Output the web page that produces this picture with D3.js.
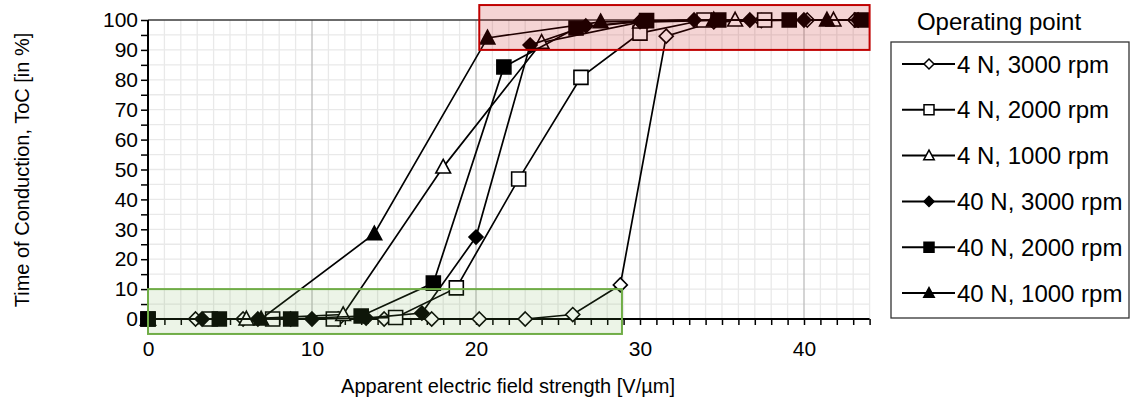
<!DOCTYPE html>
<html><head><meta charset="utf-8">
<script src="https://cdn.jsdelivr.net/npm/d3@7"></script>
<style>body{margin:0;background:#fff;} svg{display:block;font-family:Arial,"Liberation Sans",sans-serif;}</style>
</head><body><svg id="c" width="1130" height="406"></svg>
<script>
// ---- data ----
const seriesNames = ["4 N, 3000 rpm","4 N, 2000 rpm","4 N, 1000 rpm","40 N, 3000 rpm","40 N, 2000 rpm","40 N, 1000 rpm"];
const x4N3000 = [0, 2.9, 5.8, 8.7, 11.6, 14.4, 17.3, 20.2, 23.0, 25.9, 28.8, 31.6, 34.5, 37.4, 40.2, 43.1];
const y4N3000 = [0, 0, 0, 0, 0, 0, 0, 0, 0, 1.5, 11.4, 94.6, 99.4, 99.8, 100, 100];
const x4N2000 = [0, 3.8, 7.6, 11.3, 15.1, 18.8, 22.6, 26.4, 30.0, 33.9, 37.6];
const y4N2000 = [0, 0, 0, 0, 0.5, 10.4, 46.8, 80.8, 95.6, 100, 100];
const x4N1000 = [0, 6.0, 11.9, 18.0, 24.0, 30.0, 35.8, 41.8];
const y4N1000 = [0, 0, 1.5, 50.8, 92.5, 99.3, 100, 100];
const x40N3000 = [0, 3.3, 6.7, 10.0, 13.3, 16.7, 20.0, 23.3, 26.7, 30.0, 33.3, 36.7, 40.0, 43.3];
const y40N3000 = [0, 0, 0, 0, 0.3, 2, 27.4, 91.6, 98, 99.5, 100, 100, 100, 100];
const x40N2000 = [0, 4.35, 8.7, 13.0, 17.4, 21.7, 26.1, 30.4, 34.8, 39.1, 43.5];
const y40N2000 = [0, 0, 0, 1, 12, 84.3, 97.3, 99.8, 100, 100, 100];
const x40N1000 = [0, 6.9, 13.8, 20.7, 27.6, 34.5, 41.4];
const y40N1000 = [0, 0, 28.5, 94, 99.4, 100, 100];
const markerShapes = ["diamond","square","triangle","diamond","square","triangle"];
const markerFilled = [false,false,false,true,true,true];
const xTickLabels = [0, 10, 20, 30, 40];
const yTickLabels = [0, 10, 20, 30, 40, 50, 60, 70, 80, 90, 100];
const greenBox = {x0: 0, x1: 28.9, y0: -5, y1: 10};
const redBox = {x0: 20.2, x1: 44, y0: 90, y1: 105};
const xTitle = "Apparent electric field strength [V/µm]";
const yTitle = "Time of Conduction, ToC [in %]";
const legendTitle = "Operating point";

const xsAll = [x4N3000, x4N2000, x4N1000, x40N3000, x40N2000, x40N1000];
const ysAll = [y4N3000, y4N2000, y4N1000, y40N3000, y40N2000, y40N1000];
const series = seriesNames.map((n,i)=>({name:n, shape:markerShapes[i], filled:markerFilled[i],
  pts: xsAll[i].map((v,j)=>({x:v, y:ysAll[i][j]}))}));

// ---- layout ----
const svg = d3.select("#c");
const x = d3.scaleLinear().domain([0,44]).range([148, 869.6]);
const y = d3.scaleLinear().domain([0,100]).range([319, 20]);

function markerPath(shape, r){
  if(shape==="diamond") return `M0,${-r}L${r},0L0,${r}L${-r},0Z`;
  if(shape==="square") return `M${-r},${-r}H${r}V${r}H${-r}Z`;
  return `M0,${-r*1.1}L${r*1.05},${r*0.85}L${-r*1.05},${r*0.85}Z`;
}

// grid
const g = svg.append("g");
const minorX = d3.range(1,45).filter(v=>v%10!==0);
g.selectAll(".vx").data(minorX).join("line")
  .attr("x1",d=>x(d)).attr("x2",d=>x(d)).attr("y1",y(0)).attr("y2",y(100))
  .attr("stroke","#e9e9e9").attr("stroke-width",1.3);
const minorY = d3.range(5,100,5);
g.selectAll(".hy").data(minorY).join("line")
  .attr("x1",x(0)).attr("x2",x(44)).attr("y1",d=>y(d)).attr("y2",d=>y(d))
  .attr("stroke","#e9e9e9").attr("stroke-width",1.3);
g.selectAll(".mx").data([10,20,30,40]).join("line")
  .attr("x1",d=>x(d)).attr("x2",d=>x(d)).attr("y1",y(0)).attr("y2",y(100))
  .attr("stroke","#bdbdbd").attr("stroke-width",1.3);
// top border
g.append("line").attr("x1",x(0)).attr("x2",x(44)).attr("y1",y(100)).attr("y2",y(100))
  .attr("stroke","#3a3a3a").attr("stroke-width",1.5);

// axes
const xAxis = d3.axisBottom(x).tickValues(d3.range(0,45,1)).tickSize(6)
  .tickFormat(d=> xTickLabels.includes(d) ? d : "");
const gx = svg.append("g").attr("transform",`translate(0,${y(0)})`).call(xAxis);
gx.select(".domain").attr("stroke","#000").attr("stroke-width",2).attr("d",`M${x(0)},0H${x(44)}`);
gx.selectAll(".tick line").attr("stroke","#000").attr("stroke-width",1.5);
gx.selectAll(".tick text").attr("font-size",21).attr("fill","#000").attr("y",9).attr("dy","1.35em").attr("font-family","Arial,'Liberation Sans',sans-serif");

const yAxis = d3.axisLeft(y).tickValues(d3.range(0,101,5)).tickSize(7)
  .tickFormat(d=> yTickLabels.includes(d) ? d : "");
const gy = svg.append("g").attr("transform",`translate(${x(0)},0)`).call(yAxis);
gy.select(".domain").attr("stroke","#000").attr("stroke-width",2).attr("d",`M0,${y(0)}V${y(100)}`);
gy.selectAll(".tick line").attr("stroke","#000").attr("stroke-width",1.5);
gy.selectAll(".tick text").attr("font-size",21).attr("fill","#000").attr("x",-10).attr("font-family","Arial,'Liberation Sans',sans-serif");

// series
const line = d3.line().x(d=>x(d.x)).y(d=>y(d.y));
series.forEach(s=>{
  const sg = svg.append("g");
  sg.append("path").attr("d",line(s.pts)).attr("fill","none").attr("stroke","#000").attr("stroke-width",1.7);
  sg.selectAll("path.m").data(s.pts).join("path").attr("class","m")
    .attr("transform",d=>`translate(${x(d.x)},${y(d.y)})`)
    .attr("d",markerPath(s.shape, 7))
    .attr("fill",s.filled?"#000":"#fff").attr("stroke","#000").attr("stroke-width",1.6);
});

// highlight boxes (overlay)
svg.append("rect").attr("x",x(greenBox.x0)).attr("y",y(greenBox.y1))
  .attr("width",x(greenBox.x1)-x(greenBox.x0)).attr("height",y(greenBox.y0)-y(greenBox.y1))
  .attr("fill","rgba(112,173,71,0.13)").attr("stroke","#70ad47").attr("stroke-width",2);
svg.append("rect").attr("x",x(redBox.x0)).attr("y",y(redBox.y1))
  .attr("width",x(redBox.x1)-x(redBox.x0)).attr("height",y(redBox.y0)-y(redBox.y1))
  .attr("fill","rgba(192,0,0,0.17)").attr("stroke","#c00000").attr("stroke-width",2);

// titles
svg.append("text").attr("x",508).attr("y",393).attr("text-anchor","middle").attr("font-size",20).text(xTitle);
svg.append("text").attr("transform","translate(29,170) rotate(-90)").attr("text-anchor","middle").attr("font-size",20).text(yTitle);

// legend
const lg = svg.append("g");
lg.append("text").attr("x",999).attr("y",30).attr("text-anchor","middle").attr("font-size",24).text(legendTitle);
lg.append("rect").attr("x",891).attr("y",42).attr("width",238).attr("height",276)
  .attr("fill","#fff").attr("stroke","#333").attr("stroke-width",1.3);
series.forEach((s,i)=>{
  const cy = 64 + i*45.8;
  lg.append("line").attr("x1",902).attr("x2",955).attr("y1",cy).attr("y2",cy).attr("stroke","#000").attr("stroke-width",2);
  lg.append("path").attr("transform",`translate(929,${cy})`).attr("d",markerPath(s.shape,5))
    .attr("fill",s.filled?"#000":"#fff").attr("stroke","#000").attr("stroke-width",1.5);
  lg.append("text").attr("x",957).attr("y",cy).attr("dy","0.36em").attr("font-size",24).text(s.name);
});
</script></body></html>
